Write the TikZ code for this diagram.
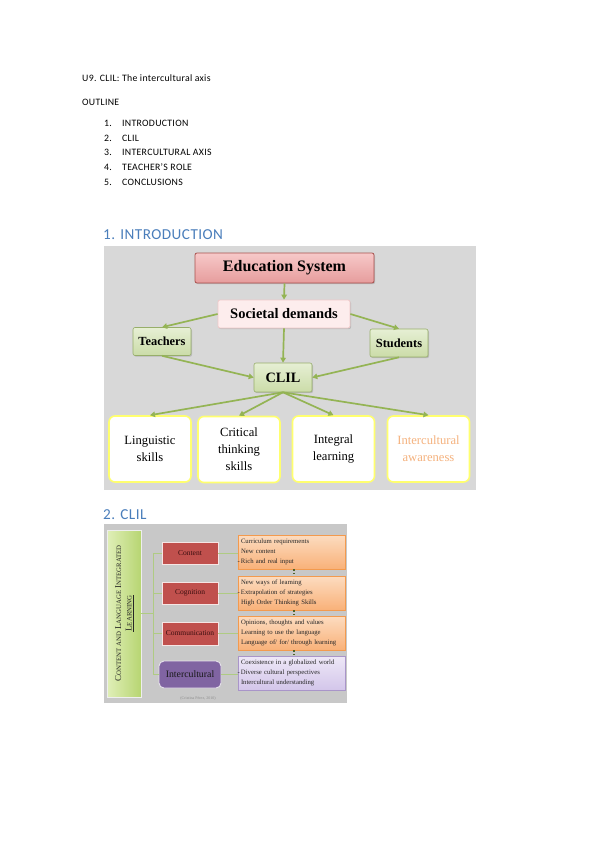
\documentclass[tikz,border=0pt]{standalone}
\usepackage{fontspec}
\setmainfont{Liberation Serif}
\newfontfamily\calfont[LetterSpace=3]{Carlito}
\usetikzlibrary{arrows.meta,shadows}
\definecolor{bgone}{HTML}{D8D8D8}
\definecolor{bgtwo}{HTML}{C8C8C8}
\definecolor{headblue}{HTML}{4A7EBB}
\definecolor{arrgreen}{HTML}{94B454}
\definecolor{edutop}{HTML}{F7C9C9}
\definecolor{edubot}{HTML}{E69C9C}
\definecolor{eduline}{HTML}{A8504D}
\definecolor{socfill}{HTML}{FDEDED}
\definecolor{socline}{HTML}{EFC9C9}
\definecolor{grtop}{HTML}{E6EFD4}
\definecolor{grbot}{HTML}{CBDCA8}
\definecolor{grline}{HTML}{97AE6A}
\definecolor{yelline}{HTML}{FFFF6E}
\definecolor{orangetxt}{HTML}{F5B27E}
\definecolor{lgtop}{HTML}{E0EFB8}
\definecolor{lgbot}{HTML}{B7D572}
\definecolor{redfill}{HTML}{C0504D}
\definecolor{redtxt}{HTML}{3A0E0E}
\definecolor{purfill}{HTML}{8064A2}
\definecolor{ortop}{HTML}{FCDCC0}
\definecolor{orbot}{HTML}{F9B179}
\definecolor{orline}{HTML}{F39A4E}
\definecolor{pltop}{HTML}{EEE8F7}
\definecolor{plbot}{HTML}{D3C6EA}
\definecolor{plline}{HTML}{A995C9}
\definecolor{thinline}{HTML}{AFCB83}
\definecolor{dotgreen}{HTML}{4F6228}
\definecolor{credit}{HTML}{8E8E8E}
\newcommand\fscA[2]{{\fontsize{9}{10}\selectfont #1}{\fontsize{6.8}{10}\selectfont #2}}
\newcommand\dashA{\leavevmode\llap{-\,}}
\begin{document}
\begin{tikzpicture}[x=1pt,y=-1pt,
  caltext/.style={inner sep=0pt, anchor=west, font=\calfont\fontsize{9.8}{11}\selectfont, text=black},
  headtext/.style={inner sep=0pt, anchor=west, font=\calfont\fontsize{15.2}{17}\selectfont, text=headblue},
  shad/.style={drop shadow={opacity=0.35, shadow xshift=1pt, shadow yshift=-1.2pt}},
  edubox/.style={shad, draw=eduline, line width=0.8pt, rounded corners=2pt, top color=edutop, bottom color=edubot,
     minimum width=179pt, minimum height=30pt, inner sep=0pt, font=\bfseries\fontsize{16}{18}\selectfont},
  socbox/.style={shad, draw=socline, line width=0.8pt, rounded corners=2pt, fill=socfill,
     minimum width=132pt, minimum height=28pt, inner sep=0pt, font=\bfseries\fontsize{14.5}{16}\selectfont},
  grbox/.style={shad, draw=grline, line width=0.6pt, rounded corners=2pt, top color=grtop, bottom color=grbot,
     minimum width=58pt, minimum height=28pt, inner sep=0pt},
  skillbox/.style={draw=yelline, line width=1.6pt, rounded corners=6pt, fill=white,
     minimum width=82pt, minimum height=66pt, inner sep=1pt, align=center,
     font=\fontsize{12.6}{17}\selectfont},
  arr/.style={draw=arrgreen, line width=1.7pt, -{Triangle[length=5pt,width=5.5pt]}},
  redbox/.style={draw=white!85!redfill, line width=0.8pt, fill=redfill, minimum width=56pt, minimum height=22pt,
     inner sep=0pt, text=redtxt, font=\fontsize{7.5}{9}\selectfont},
  infobox/.style={line width=0.7pt, minimum width=107pt, minimum height=34pt, inner xsep=3pt, inner ysep=1pt,
     text width=101pt, align=left, text=black!85, font=\fontsize{6.7}{10.3}\selectfont},
  obox/.style={infobox, draw=orline, top color=ortop, bottom color=orbot},
  pbox/.style={infobox, draw=plline, top color=pltop, bottom color=plbot},
  conn/.style={draw=thinline, line width=0.7pt},
  dotconn/.style={draw=dotgreen, line width=1.4pt, dotted}
]
\useasboundingbox (0,0) rectangle (599,848);
\fill[white] (0,0) rectangle (599,848);

% ---- header text
\node[caltext] (title) at (82,78) {U9. CLIL: The intercultural axis};
\node[caltext] (outline) at (82,102) {OUTLINE};
\node[caltext] (n1) at (104,123) {1.};
\node[caltext] (t1) at (122,123) {INTRODUCTION};
\node[caltext] (n2) at (104,138) {2.};
\node[caltext] (t2) at (122,138) {CLIL};
\node[caltext] (n3) at (104,152.5) {3.};
\node[caltext] (t3) at (122,152.5) {INTERCULTURAL AXIS};
\node[caltext] (n4) at (104,167) {4.};
\node[caltext] (t4) at (122,167) {TEACHER’S ROLE};
\node[caltext] (n5) at (104,182) {5.};
\node[caltext] (t5) at (122,182) {CONCLUSIONS};

% ---- section 1
\node[headtext] (h1) at (103,235) {1. INTRODUCTION};
\fill[bgone] (104,246) rectangle (476,490);

\node[edubox] (edu) at (284.5,268) {Education System};
\node[socbox] (soc) at (284,314) {Societal demands};
\node[grbox, font=\bfseries\fontsize{12.4}{14}\selectfont] (teach) at (162,341.5) {Teachers};
\node[grbox, font=\bfseries\fontsize{12.4}{14}\selectfont] (stud) at (399,343) {Students};
\node[grbox, minimum height=29pt, font=\bfseries\fontsize{14.3}{16}\selectfont] (clil) at (283,377.5) {CLIL};

\node[skillbox] (ling) at (150,449) {Linguistic\\skills};
\node[skillbox] (crit) at (239,449.5) {Critical\\thinking\\skills};
\node[skillbox] (integ) at (333.5,449) {Integral\\learning};
\node[skillbox, text=orangetxt] (aware) at (428.5,449) {Intercultural\\awareness};

\draw[arr] (edu.south) -- (soc.north);
\draw[arr] (soc.west) -- (teach.north);
\draw[arr] (soc.east) -- (stud.north);
\draw[arr] (soc.south) -- (clil.north);
\draw[arr] (teach.south) -- (clil.west);
\draw[arr] (stud.south) -- (clil.east);
\draw[arr] (clil.south) -- (ling.north);
\draw[arr] (clil.south) -- (crit.north);
\draw[arr] (clil.south) -- (integ.north);
\draw[arr] (clil.south) -- (aware.north);

% ---- section 2
\node[headtext] (h2) at (103,515) {2. CLIL};
\fill[bgtwo] (104,524) rectangle (347,703);

\node[draw=white!70!bgtwo, line width=0.8pt, left color=lgtop, right color=lgbot,
      minimum width=34pt, minimum height=167pt, inner sep=0pt] (lang) at (124,613.5) {};
\node[rotate=90, align=center, inner sep=0pt, font=\fontsize{9}{10.5}\selectfont, text=black!85] (langtxt) at (124.5,613.5)
  {\fscA{C}{ONTENT AND} \fscA{L}{ANGUAGE} \fscA{I}{NTEGRATED}\\\underline{\fscA{L}{EARNING}}};

\node[redbox] (cont) at (190,553) {Content};
\node[redbox] (cogn) at (190,593) {Cognition};
\node[redbox, minimum height=23pt] (comm) at (190,633.5) {Communication};
\node[draw=white!80!purfill, line width=0.9pt, fill=purfill, rounded corners=5pt, minimum width=62pt, minimum height=27pt,
      inner sep=0pt, text=black!90, font=\fontsize{9.8}{11}\selectfont] (inter) at (190,674.5) {Intercultural};

\node[obox] (o1) at (291.5,552) {Curriculum requirements\\New content\\\dashA Rich and real input};
\node[obox] (o2) at (291.5,593) {New ways of learning\\\dashA Extrapolation of strategies\\High Order Thinking Skills};
\node[obox] (o3) at (291.5,633) {Opinions, thoughts and values\\Learning to use the language\\Language of/ for/ through learning};
\node[pbox] (p4) at (291.5,673) {Coexistence in a globalized world\\\dashA Diverse cultural perspectives\\Intercultural understanding};

\coordinate (junc) at (153,613.5);
\draw[conn] (lang.east) -- (junc);
\draw[conn] (junc) |- (cont.west);
\draw[conn] (junc) |- (cogn.west);
\draw[conn] (junc) |- (comm.west);
\draw[conn] (junc) |- (inter.west);
\draw[conn] (cont.east) -- (o1.west |- cont.east);
\draw[conn] (cogn.east) -- (o2.west |- cogn.east);
\draw[conn] (comm.east) -- (o3.west |- comm.east);
\draw[conn] (inter.east) -- (p4.west |- inter.east);

\draw[dotconn] ([xshift=2.5pt]o1.south) -- ([xshift=2.5pt]o2.north);
\draw[dotconn] ([xshift=2.5pt]o2.south) -- ([xshift=2.5pt]o3.north);
\draw[dotconn] ([xshift=2.5pt]o3.south) -- ([xshift=2.5pt]p4.north);

\node[inner sep=0pt, text=credit, font=\fontsize{4}{5}\selectfont] (cred) at (198,698.5) {(Cristina Pérez, 2010)};
\end{tikzpicture}
\end{document}
